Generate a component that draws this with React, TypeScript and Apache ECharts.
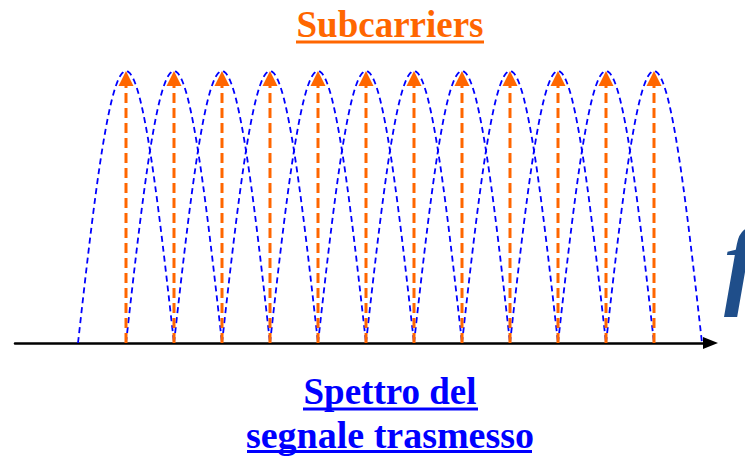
import React, { useEffect, useRef } from "react";
import * as echarts from "echarts";

// Subcarrier centre frequencies (in units of the subcarrier spacing)
const subcarrierCenters = [1, 2, 3, 4, 5, 6, 7, 8, 9, 10, 11, 12];
// Relative amplitude of each subcarrier
const subcarrierAmplitudes = [1, 1, 1, 1, 1, 1, 1, 1, 1, 1, 1, 1];
// Half-width of each spectral lobe (first null), in spacing units
const lobeHalfWidth = 1;
// Frequency axis range
const freqMin = -1.3125;
const freqMax = 13.177;

const titleText = "Subcarriers";
const captionLines = ["Spettro del", "segnale trasmesso"];
const axisLetter = "f";

const BLUE = "#0000ff";
const ORANGE = "#ff6600";
const SERIF = '"Liberation Serif", "Times New Roman", serif';

export default function App() {
  const ref = useRef<HTMLDivElement>(null);

  useEffect(() => {
    if (!ref.current) return;
    const chart = echarts.init(ref.current, null, { renderer: "svg" });

    const lobeData = subcarrierCenters.map((c, i) => [c, subcarrierAmplitudes[i]]);

    const option: any = {
      animation: false,
      backgroundColor: "#ffffff",
      grid: { left: 15, right: 34.5, top: 71, bottom: 115 },
      xAxis: {
        type: "value",
        min: freqMin,
        max: freqMax,
        axisLine: {
          show: true,
          onZero: false,
          lineStyle: { color: "#000000", width: 2.5 },
          symbol: ["none", "triangle"],
          symbolSize: [12, 15],
        },
        axisTick: { show: false },
        axisLabel: { show: false },
        splitLine: { show: false },
      },
      yAxis: {
        type: "value",
        min: 0,
        max: 1,
        show: false,
      },
      series: [
        {
          type: "custom",
          name: "lobes",
          clip: false,
          data: lobeData,
          z: 2,
          renderItem: (params: any, api: any) => {
            const c = api.value(0);
            const a = api.value(1);
            const pts: number[][] = [];
            const n = 48;
            for (let k = 0; k <= n; k++) {
              const f = c - lobeHalfWidth + (2 * lobeHalfWidth * k) / n;
              const v = a * Math.cos((Math.PI / 2) * ((f - c) / lobeHalfWidth));
              pts.push(api.coord([f, Math.max(0, v)]));
            }
            return {
              type: "polyline",
              shape: { points: pts },
              style: {
                stroke: BLUE,
                fill: "none",
                lineWidth: 1.8,
                lineDash: [6, 4],
              },
            };
          },
        },
        {
          type: "custom",
          name: "carriers",
          clip: false,
          data: lobeData,
          z: 3,
          renderItem: (params: any, api: any) => {
            const c = api.value(0);
            const a = api.value(1);
            const base = api.coord([c, 0]);
            const tip = api.coord([c, a]);
            const head = 15;
            const hw = 7.5;
            return {
              type: "group",
              children: [
                {
                  type: "line",
                  shape: { x1: base[0], y1: base[1], x2: tip[0], y2: tip[1] + head },
                  style: { stroke: ORANGE, lineWidth: 3, lineDash: [10, 5] },
                },
                {
                  type: "polygon",
                  shape: {
                    points: [
                      [tip[0], tip[1]],
                      [tip[0] - hw, tip[1] + head],
                      [tip[0] + hw, tip[1] + head],
                    ],
                  },
                  style: { fill: ORANGE },
                },
              ],
            };
          },
        },
      ],
      graphic: [
        {
          type: "text",
          x: 390,
          y: 24.5,
          style: {
            text: titleText,
            fill: ORANGE,
            font: `bold 37px ${SERIF}`,
            textAlign: "center",
            textVerticalAlign: "middle",
          },
        },
        { type: "rect", shape: { x: 296, y: 40.5, width: 188, height: 3 }, style: { fill: ORANGE } },
        {
          type: "text",
          x: 390,
          y: 391.5,
          style: {
            text: captionLines[0],
            fill: BLUE,
            font: `bold 37px ${SERIF}`,
            textAlign: "center",
            textVerticalAlign: "middle",
          },
        },
        { type: "rect", shape: { x: 303, y: 407.5, width: 175, height: 3 }, style: { fill: BLUE } },
        {
          type: "text",
          x: 390,
          y: 434.5,
          style: {
            text: captionLines[1],
            fill: BLUE,
            font: `bold 38px ${SERIF}`,
            textAlign: "center",
            textVerticalAlign: "middle",
          },
        },
        { type: "rect", shape: { x: 247, y: 450, width: 285, height: 3 }, style: { fill: BLUE } },
        {
          type: "text",
          x: 724,
          y: 262,
          style: {
            text: axisLetter,
            fill: "#1f4e8a",
            font: `italic bold 100px ${SERIF}`,
            textAlign: "left",
            textVerticalAlign: "middle",
          },
        },
      ],
    };

    chart.setOption(option);
    return () => chart.dispose();
  }, []);

  return (
    <div
      ref={ref}
      style={{ position: "fixed", left: 0, top: 0, width: 745, height: 458 }}
    />
  );
}
